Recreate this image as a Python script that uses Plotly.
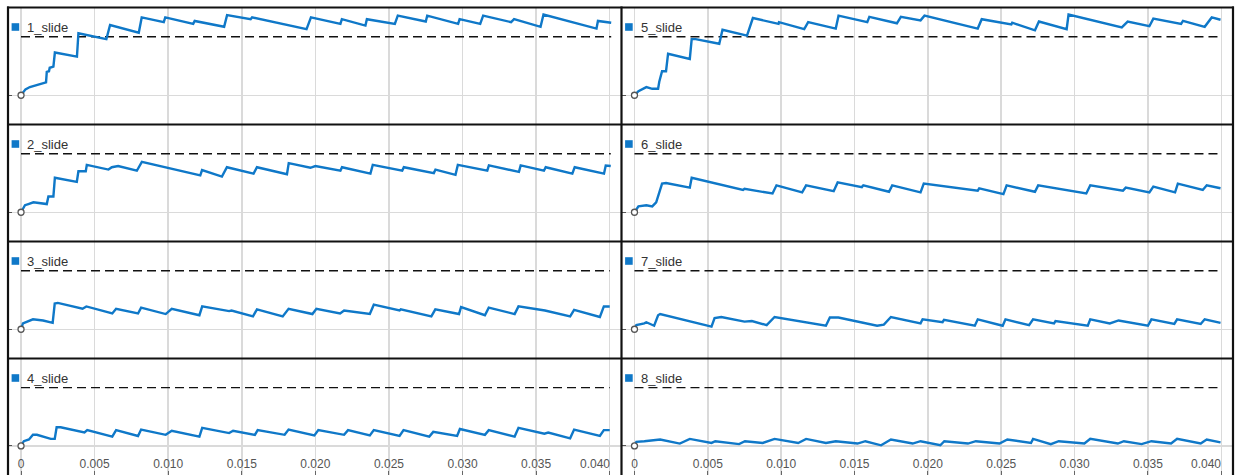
import plotly.graph_objects as go

# ---------------- data (time in s, value) ----------------
NAMES = ["1_slide", "2_slide", "3_slide", "4_slide", "5_slide", "6_slide", "7_slide", "8_slide"]

S1_T = [0, 0.0003, 0.0006, 0.0014, 0.0017, 0.00175, 0.0019, 0.00195, 0.0022, 0.0023,
        0.0038, 0.0039, 0.0058, 0.00605, 0.0080, 0.0082, 0.0097, 0.0098, 0.0117, 0.0118,
        0.0138, 0.0140, 0.0156, 0.0157, 0.0194, 0.0197, 0.0217, 0.0218, 0.0234, 0.0235,
        0.0254, 0.0256, 0.0275, 0.0276, 0.0297, 0.0298, 0.0312, 0.0314, 0.0333, 0.0335,
        0.0353, 0.0355, 0.0391, 0.0392, 0.0401]
S1_V = [0, 0.10, 0.14, 0.20, 0.22, 0.40, 0.41, 0.47, 0.49, 0.73,
        0.66, 1.06, 0.96, 1.20, 1.07, 1.33, 1.25, 1.33, 1.22, 1.27,
        1.17, 1.37, 1.30, 1.33, 1.13, 1.33, 1.22, 1.30, 1.19, 1.30,
        1.22, 1.36, 1.26, 1.36, 1.22, 1.30, 1.22, 1.36, 1.25, 1.30,
        1.17, 1.38, 1.14, 1.27, 1.24]

S2_T = [0, 0.00027, 0.0005, 0.00084, 0.00175, 0.00186, 0.0022, 0.0023, 0.00379, 0.0039,
        0.0044, 0.00447, 0.00594, 0.00617, 0.0066, 0.00787, 0.00821, 0.01218, 0.0123, 0.01365,
        0.01399, 0.0158, 0.01603, 0.01807, 0.01819, 0.01966, 0.0200, 0.0217, 0.02181, 0.02374,
        0.0239, 0.0259, 0.02601, 0.02805, 0.02816, 0.02952, 0.02968, 0.03168, 0.03179, 0.03383,
        0.03395, 0.03553, 0.03565, 0.03746, 0.03762, 0.03961, 0.03973, 0.04007]
S2_V = [0, 0.12, 0.14, 0.17, 0.14, 0.27, 0.27, 0.59, 0.52, 0.70,
        0.70, 0.81, 0.73, 0.77, 0.79, 0.71, 0.86, 0.63, 0.72, 0.61,
        0.77, 0.66, 0.77, 0.65, 0.84, 0.76, 0.79, 0.71, 0.77, 0.66,
        0.81, 0.71, 0.77, 0.67, 0.73, 0.64, 0.81, 0.71, 0.80, 0.69,
        0.80, 0.71, 0.77, 0.66, 0.77, 0.66, 0.80, 0.79]

S3_T = [0, 0.00013, 0.00081, 0.0015, 0.00215, 0.00229, 0.0025, 0.00418, 0.00444, 0.0062,
        0.00646, 0.00795, 0.00816, 0.00983, 0.01024, 0.01212, 0.01231, 0.01414, 0.0143, 0.01576,
        0.01603, 0.01778, 0.01818, 0.0198, 0.02007, 0.02168, 0.02195, 0.0237, 0.02397, 0.02572,
        0.0258, 0.02788, 0.02815, 0.02976, 0.0299, 0.03152, 0.03178, 0.03354, 0.0338, 0.03542,
        0.0356, 0.03731, 0.03758, 0.03933, 0.0396, 0.0400]
S3_V = [0, 0.10, 0.17, 0.15, 0.11, 0.44, 0.45, 0.35, 0.39, 0.27,
        0.35, 0.27, 0.37, 0.26, 0.35, 0.24, 0.39, 0.31, 0.32, 0.22,
        0.34, 0.22, 0.35, 0.26, 0.35, 0.27, 0.32, 0.26, 0.42, 0.32,
        0.34, 0.22, 0.34, 0.26, 0.38, 0.24, 0.37, 0.26, 0.39, 0.32,
        0.32, 0.22, 0.33, 0.21, 0.39, 0.39]

S4_T = [0, 0.00019, 0.00054, 0.00081, 0.00108, 0.00202, 0.00229, 0.00242, 0.00269, 0.00431,
        0.0045, 0.0062, 0.00646, 0.00795, 0.00816, 0.00983, 0.01024, 0.01212, 0.01231, 0.01414,
        0.01441, 0.01589, 0.01608, 0.01791, 0.01818, 0.01993, 0.0202, 0.02195, 0.02222, 0.0237,
        0.02397, 0.02572, 0.02599, 0.02774, 0.02801, 0.02963, 0.02982, 0.03152, 0.03178, 0.03354,
        0.0338, 0.03556, 0.03582, 0.03731, 0.03758, 0.03933, 0.0396, 0.0400]
S4_V = [0, 0.08, 0.11, 0.19, 0.19, 0.12, 0.12, 0.32, 0.32, 0.23,
        0.27, 0.16, 0.27, 0.17, 0.28, 0.19, 0.26, 0.16, 0.31, 0.22,
        0.26, 0.19, 0.27, 0.19, 0.28, 0.18, 0.27, 0.19, 0.27, 0.18,
        0.27, 0.17, 0.27, 0.16, 0.24, 0.17, 0.29, 0.19, 0.27, 0.16,
        0.31, 0.21, 0.23, 0.13, 0.28, 0.17, 0.27, 0.27]

S5_T = [0, 0.00027, 0.00081, 0.00121, 0.00161, 0.00169, 0.00188, 0.00215, 0.00229, 0.00377,
        0.0039, 0.00417, 0.00578, 0.006, 0.00767, 0.00807, 0.00982, 0.00985, 0.01157, 0.01184,
        0.01372, 0.01391, 0.01587, 0.01601, 0.01789, 0.01816, 0.0195, 0.01977, 0.0234, 0.02367,
        0.02569, 0.02575, 0.0273, 0.02757, 0.02946, 0.02959, 0.03322, 0.03362, 0.0351, 0.03537,
        0.03726, 0.03739, 0.03887, 0.03909, 0.03935, 0.03995]
S5_V = [0, 0.07, 0.14, 0.11, 0.11, 0.23, 0.41, 0.41, 0.71, 0.62,
        0.96, 0.96, 0.88, 1.12, 1.02, 1.32, 1.22, 1.25, 1.13, 1.25,
        1.14, 1.36, 1.25, 1.34, 1.23, 1.34, 1.28, 1.36, 1.14, 1.30,
        1.21, 1.24, 1.11, 1.26, 1.13, 1.38, 1.16, 1.26, 1.18, 1.31,
        1.22, 1.27, 1.17, 1.24, 1.33, 1.29]

S6_T = [0, 0.00027, 0.00081, 0.00121, 0.00148, 0.00169, 0.00188, 0.00215, 0.00377, 0.0039,
        0.0074, 0.0075, 0.00941, 0.00968, 0.01143, 0.0117, 0.01358, 0.01385, 0.0155, 0.0156,
        0.01735, 0.01757, 0.0195, 0.01972, 0.0234, 0.0235, 0.02515, 0.02537, 0.0273, 0.02752,
        0.0308, 0.03107, 0.0333, 0.03349, 0.0351, 0.03537, 0.03685, 0.03704, 0.03874, 0.03901,
        0.03995]
S6_V = [0, 0.10, 0.12, 0.10, 0.17, 0.32, 0.49, 0.50, 0.42, 0.59,
        0.38, 0.40, 0.32, 0.46, 0.34, 0.46, 0.36, 0.51, 0.43, 0.46,
        0.35, 0.46, 0.34, 0.49, 0.37, 0.41, 0.31, 0.46, 0.35, 0.46,
        0.32, 0.46, 0.37, 0.42, 0.34, 0.44, 0.34, 0.49, 0.38, 0.46,
        0.41]

S7_T = [0, 0.00013, 0.00067, 0.00081, 0.00134, 0.00161, 0.00175, 0.00525, 0.00546, 0.00592,
        0.0075, 0.0080, 0.00901, 0.00955, 0.01305, 0.01332, 0.0139, 0.01654, 0.0170, 0.01748,
        0.0195, 0.01964, 0.0210, 0.0211, 0.0232, 0.0234, 0.0251, 0.02529, 0.0269, 0.02717,
        0.0286, 0.0287, 0.0309, 0.03107, 0.0324, 0.0330, 0.0350, 0.03524, 0.0368, 0.03699,
        0.0386, 0.03887, 0.03995]
S7_V = [0, 0.07, 0.10, 0.12, 0.06, 0.24, 0.26, 0.045, 0.19, 0.21,
        0.13, 0.14, 0.07, 0.21, 0.06, 0.20, 0.20, 0.06, 0.08, 0.21,
        0.10, 0.17, 0.12, 0.16, 0.06, 0.17, 0.06, 0.17, 0.07, 0.17,
        0.10, 0.14, 0.06, 0.17, 0.10, 0.15, 0.06, 0.17, 0.09, 0.17,
        0.09, 0.17, 0.11]

S8_T = [0, 0.00013, 0.00067, 0.00175, 0.00309, 0.00377, 0.00525, 0.00551, 0.00713, 0.00753,
        0.00874, 0.00955, 0.01116, 0.0117, 0.01305, 0.01372, 0.0152, 0.01574, 0.01681, 0.01748,
        0.01896, 0.0195, 0.02085, 0.02112, 0.02273, 0.02327, 0.02488, 0.02542, 0.02703, 0.02717,
        0.02838, 0.02892, 0.03067, 0.03107, 0.03295, 0.03336, 0.03457, 0.03524, 0.03658, 0.03699,
        0.0386, 0.03901, 0.03995]
S8_V = [0, 0.07, 0.08, 0.11, 0.04, 0.12, 0.05, 0.08, 0.03, 0.08,
        0.05, 0.12, 0.05, 0.12, 0.05, 0.08, 0.04, 0.08, 0.01, 0.11,
        0.04, 0.08, 0.01, 0.08, 0.04, 0.08, 0.04, 0.11, 0.05, 0.12,
        0.03, 0.08, 0.04, 0.12, 0.04, 0.08, 0.03, 0.08, 0.04, 0.12,
        0.04, 0.11, 0.06]

THRESHOLD = 1.0
TICK_VALS = [0, 0.005, 0.010, 0.015, 0.020, 0.025, 0.030, 0.035, 0.040]
TICK_TEXT = ["0", "0.005", "0.010", "0.015", "0.020", "0.025", "0.030", "0.035", "0.040"]

SERIES_T = [S1_T, S2_T, S3_T, S4_T, S5_T, S6_T, S7_T, S8_T]
SERIES_V = [S1_V, S2_V, S3_V, S4_V, S5_V, S6_V, S7_V, S8_V]

# ---------------- layout geometry ----------------
W, H = 1240, 475
COL_X = [(8.0, 621.5), (621.5, 1233.0)]          # pixel extents of columns
ROW_Y = [(7.5, 124.5), (124.5, 241.5), (241.5, 358.5), (358.5, 475.0)]
X_RANGE = [-0.000885, 0.0408]
Y_RANGE = [-0.5, 1.5]
LABEL_Y = 464.0                                   # pixel row of x tick labels

LINE_BLUE = "#0f78c8"
GRID = "#dadada"
FONT = "Liberation Sans, Arial, sans-serif"


def px(x):
    return x / W


def py(y):
    return 1 - y / H


fig = go.Figure()
layout = dict(
    width=W, height=H,
    margin=dict(l=0, r=0, t=0, b=0),
    paper_bgcolor="white", plot_bgcolor="white",
    showlegend=False, hovermode=False,
    font=dict(family=FONT, size=11, color="#555"),
)
shapes = []
annotations = []

for i in range(8):
    col, row = i // 4, i % 4
    k = "" if i == 0 else str(i + 1)
    x0, x1 = COL_X[col]
    ytop, ybot = ROW_Y[row]
    bottom = row == 3

    # last tick label is drawn separately (right-aligned so it stays in the panel)
    shown_text = TICK_TEXT[:-1] + [""]
    layout["xaxis" + k] = dict(
        domain=[px(x0), px(x1)], range=X_RANGE, anchor="y" + k,
        tickvals=TICK_VALS, ticktext=shown_text,
        showgrid=True, gridcolor=GRID, gridwidth=1.5, zeroline=False,
        showline=False,
        ticks="inside" if bottom else "", ticklen=4, tickcolor="#666",
        showticklabels=bottom, ticklabelposition="inside",
        ticklabeloverflow="allow",
        tickfont=dict(family=FONT, size=12, color="#555"),
        fixedrange=True,
    )
    layout["yaxis" + k] = dict(
        domain=[py(ybot), py(ytop)], range=Y_RANGE, anchor="x" + k,
        tickvals=[0], showgrid=True, gridcolor=GRID, gridwidth=1.5,
        zeroline=False, showline=False, showticklabels=False,
        ticks="inside", ticklen=4, tickcolor="#555",
        fixedrange=True,
    )
    if bottom:
        annotations.append(dict(xref="x" + k, yref="paper",
                                x=TICK_VALS[-1], y=py(LABEL_Y),
                                xanchor="right", yanchor="middle", xshift=2,
                                showarrow=False, text=TICK_TEXT[-1],
                                font=dict(family=FONT, size=12, color="#555")))

    t, v = SERIES_T[i], SERIES_V[i]
    # threshold dashed line
    fig.add_trace(go.Scatter(
        x=[t[0], t[-1]], y=[THRESHOLD, THRESHOLD], mode="lines",
        line=dict(color="#111", width=1.3, dash="9px,5px"),
        xaxis="x" + k, yaxis="y" + k))
    # signal
    fig.add_trace(go.Scatter(
        x=t, y=v, mode="lines", line=dict(color=LINE_BLUE, width=2.4),
        xaxis="x" + k, yaxis="y" + k))
    # start marker
    fig.add_trace(go.Scatter(
        x=[t[0]], y=[v[0]], mode="markers",
        marker=dict(symbol="circle", size=6, color="white",
                    line=dict(color="#555", width=1.3)),
        xaxis="x" + k, yaxis="y" + k))

    # legend square + label
    shapes.append(dict(type="rect", xref="paper", yref="paper",
                       x0=px(x0 + 3.6), x1=px(x0 + 11.2),
                       y0=py(ytop + 23.3), y1=py(ytop + 15.7),
                       fillcolor=LINE_BLUE, line=dict(width=0), layer="above"))
    annotations.append(dict(xref="paper", yref="paper",
                            x=px(x0 + 17.0), y=py(ytop + 19.8),
                            xanchor="left", yanchor="middle", showarrow=False,
                            text=NAMES[i],
                            font=dict(family=FONT, size=13, color="#333")))

# frame lines
for yb in [7.5, 124.5, 241.5, 358.5]:
    shapes.append(dict(type="line", xref="paper", yref="paper",
                       x0=px(7), x1=px(1234), y0=py(yb), y1=py(yb),
                       line=dict(color="#111", width=2.2), layer="above"))
for xb in [8.0, 621.5, 1233.0]:
    shapes.append(dict(type="line", xref="paper", yref="paper",
                       x0=px(xb), x1=px(xb), y0=py(6.5), y1=py(476),
                       line=dict(color="#111", width=2.2), layer="above"))

layout["shapes"] = shapes
layout["annotations"] = annotations
fig.update_layout(**layout)

fig.write_html("out.html", config={"displayModeBar": False, "staticPlot": True},
               post_script="document.body.style.margin='0';")
